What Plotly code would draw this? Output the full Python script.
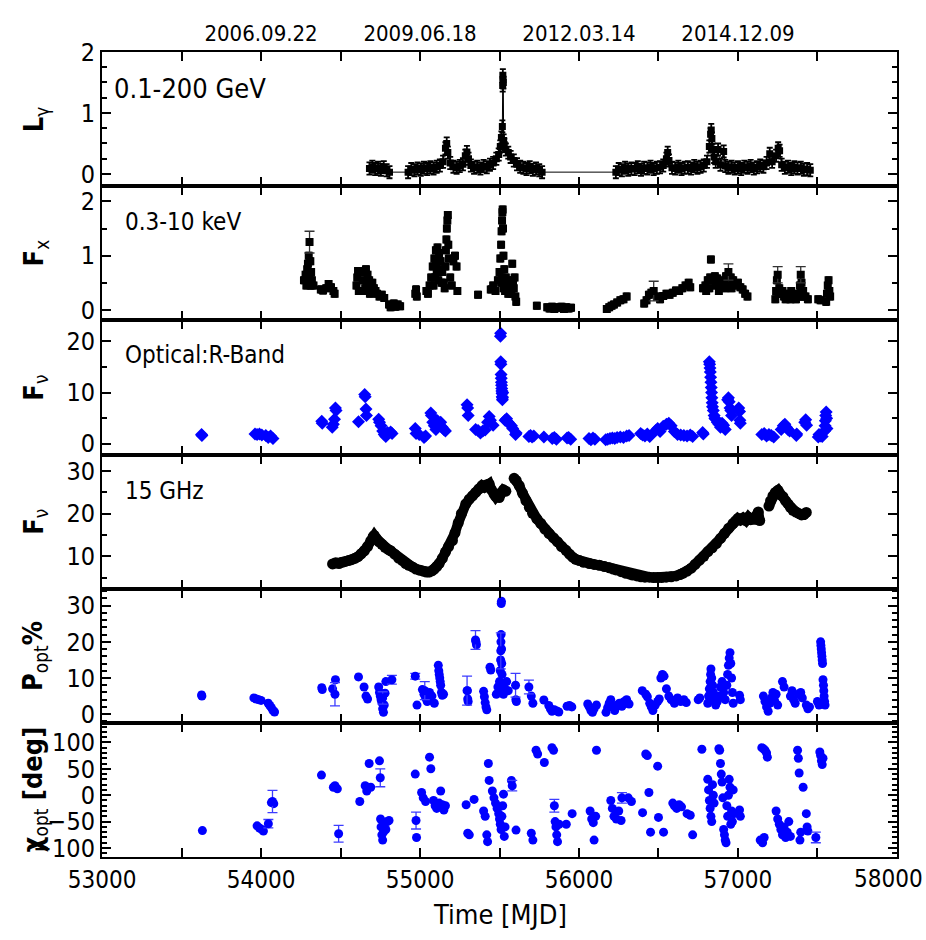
import plotly.graph_objects as go
from plotly.subplots import make_subplots

# ---------------- data ----------------
# Gamma-ray luminosity, 0.1-200 GeV
gam_mjd = [
    54682, 54700, 54718, 54736, 54754, 54772, 54790, 54808,
    54925, 54945, 54965, 54985, 55005, 55025, 55045, 55065, 55085, 55105,
    55125, 55145, 55160, 55168, 55175, 55190, 55210, 55230, 55250, 55270,
    55285, 55295, 55305, 55320, 55340, 55360, 55380, 55400, 55420, 55440,
    55460, 55480, 55495, 55505, 55512, 55518, 55520, 55521, 55522, 55524,
    55526, 55530, 55540, 55555, 55570, 55590, 55610, 55630, 55650, 55670,
    55690, 55710, 55730, 55750, 55768,
    56232, 56250, 56270, 56290, 56310, 56330, 56350, 56370, 56390, 56410,
    56430, 56450, 56470, 56490, 56510, 56530, 56550, 56558, 56566, 56585,
    56605, 56625, 56645, 56665, 56685, 56705, 56725, 56745, 56765, 56785,
    56805, 56820, 56828, 56832, 56836, 56842, 56850, 56860, 56875, 56890,
    56910, 56920, 56940, 56960, 56980, 57000, 57020, 57040, 57060, 57080,
    57100, 57120, 57140, 57160, 57180, 57200, 57215, 57240, 57253, 57262,
    57275, 57295, 57315, 57335, 57355, 57375, 57395, 57415, 57435, 57455,
]
gam_lum = [
    0.09, 0.12, 0.08, 0.10, 0.07, 0.11, 0.06, 0.03,
    0.03, 0.08, 0.06, 0.09, 0.07, 0.10, 0.08, 0.11, 0.09, 0.12,
    0.14, 0.20, 0.42, 0.50, 0.35, 0.18, 0.12, 0.10, 0.13, 0.16,
    0.30, 0.36, 0.25, 0.14, 0.10, 0.12, 0.09, 0.13, 0.11, 0.15,
    0.18, 0.25, 0.32, 0.45, 0.60, 0.78, 1.45, 1.62, 1.55, 1.50,
    0.55, 0.48, 0.40, 0.35, 0.28, 0.22, 0.16, 0.12, 0.10, 0.08,
    0.11, 0.07, 0.09, 0.06, 0.03,
    0.03, 0.08, 0.06, 0.10, 0.07, 0.09, 0.08, 0.11, 0.07, 0.10,
    0.09, 0.12, 0.08, 0.10, 0.11, 0.14, 0.25, 0.35, 0.22, 0.10,
    0.09, 0.12, 0.08, 0.10, 0.11, 0.09, 0.13, 0.10, 0.12, 0.14,
    0.20, 0.45, 0.65, 0.72, 0.58, 0.40, 0.28, 0.20, 0.40, 0.15,
    0.37, 0.13, 0.10, 0.12, 0.09, 0.11, 0.08, 0.12, 0.10, 0.13,
    0.09, 0.11, 0.14, 0.12, 0.18, 0.33, 0.20, 0.30, 0.42, 0.38,
    0.15, 0.10, 0.12, 0.08, 0.11, 0.09, 0.10, 0.07, 0.08, 0.06,
]
gam_err = 0.1

# X-ray flux, 0.3-10 keV
xr_mjd = [
    54270, 54280, 54290, 54295, 54300, 54310, 54315, 54320, 54330,
    54285, 54295, 54305, 54312,
    54376, 54390, 54410, 54425, 54440, 54455, 54463,
    54600, 54605, 54610, 54615, 54640, 54650, 54660, 54670, 54680, 54690,
    54700, 54710, 54720, 54730, 54745, 54760, 54775,
    54645, 54655, 54665, 54675, 54685,
    54805, 54815, 54825, 54835, 54845, 54860, 54875,
    54970, 54975, 54980,
    55040, 55050, 55060, 55070, 55080, 55090, 55100, 55110, 55120, 55130,
    55140, 55150, 55155, 55160, 55163, 55166, 55169, 55172, 55175, 55178,
    55181, 55190, 55200, 55210, 55220, 55230, 55235,
    55085, 55095, 55105, 55115, 55125, 55135, 55100, 55110,
    55365,
    55445, 55460, 55475, 55490, 55500, 55505, 55510, 55513, 55516, 55518,
    55520, 55522, 55525, 55530, 55540, 55550, 55560, 55570, 55580, 55590,
    55600, 55605,
    55510, 55515, 55525, 55535, 55545, 55555, 55575, 55585, 55595,
    55735,
    55800, 55815, 55830, 55845, 55860, 55875, 55890, 55905, 55920, 55935, 55950,
    56175, 56190, 56205, 56220, 56240, 56260, 56280, 56300,
    56410, 56425, 56440, 56455, 56490, 56510, 56530, 56550, 56570, 56590,
    56610, 56630, 56650, 56670, 56690, 56700,
    56780, 56795, 56810, 56825, 56830, 56840, 56855, 56870, 56885, 56900,
    56915, 56925, 56955, 56970, 56985, 57000, 57015, 57030, 57045, 57060,
    56800, 56820, 56860, 56880, 56920, 56945, 56960,
    57235, 57240, 57245, 57260, 57275, 57290, 57305, 57320, 57335, 57350,
    57365, 57380, 57390, 57400, 57410, 57425, 57440,
    57255, 57280, 57300, 57330, 57385, 57395, 57405,
    57505, 57520, 57555, 57560, 57565, 57570, 57575, 57580,
]
xr_flux = [
    0.55, 0.65, 0.75, 0.85, 1.00, 0.90, 0.70, 0.55, 0.45,
    0.45, 0.50, 0.60, 0.45,
    0.38, 0.36, 0.40, 0.48, 0.42, 0.35, 0.30,
    0.45, 0.60, 0.72, 0.35, 0.55, 0.70, 0.75, 0.65, 0.55, 0.45,
    0.50, 0.40, 0.35, 0.30, 0.25, 0.28, 0.22,
    0.35, 0.40, 0.50, 0.35, 0.30,
    0.10, 0.05, 0.08, 0.12, 0.06, 0.10, 0.07,
    0.30, 0.38, 0.25,
    0.35, 0.30, 0.45, 0.60, 0.80, 0.95, 1.10, 1.15, 1.05, 0.90,
    0.70, 0.50, 0.40, 0.80, 1.10, 1.30, 1.50, 1.65, 1.75, 1.20,
    0.95, 0.60, 0.45, 0.90, 1.00, 0.80, 0.35,
    0.45, 0.60, 0.70, 0.55, 0.75, 0.50, 0.85, 0.90,
    0.28,
    0.38, 0.45, 0.35, 0.55, 0.70, 0.95, 1.20, 1.45, 1.65, 1.80,
    1.85, 1.50, 1.00, 0.75, 0.60, 0.50, 0.35, 0.55, 0.85, 0.40,
    0.25, 0.15,
    0.50, 0.60, 0.40, 0.35, 0.45, 0.30, 0.30, 0.50, 0.60,
    0.08,
    0.05, 0.03, 0.06, 0.02, 0.05, 0.04, 0.06, 0.02, 0.05, 0.03, 0.04,
    0.02, 0.05, 0.08, 0.10, 0.14, 0.18, 0.20, 0.25,
    0.12, 0.18, 0.28, 0.32, 0.25, 0.20, 0.26, 0.30, 0.28, 0.32,
    0.36, 0.35, 0.40, 0.45, 0.50, 0.42,
    0.40, 0.45, 0.55, 0.60, 0.93, 0.55, 0.62, 0.58, 0.50, 0.48,
    0.55, 0.62, 0.60, 0.55, 0.45, 0.50, 0.42, 0.38, 0.30, 0.25,
    0.35, 0.40, 0.45, 0.35, 0.40, 0.45, 0.40,
    0.20, 0.35, 0.55, 0.40, 0.30, 0.25, 0.30, 0.28, 0.35, 0.25,
    0.20, 0.30, 0.45, 0.50, 0.35, 0.25, 0.20,
    0.30, 0.35, 0.20, 0.20, 0.25, 0.35, 0.25,
    0.20, 0.18, 0.15, 0.30, 0.45, 0.55, 0.35, 0.25,
]
xr_err = 0.06
# X-ray points with large uncertainties
xr_wide_mjd = [54305, 56470, 56940, 57250, 57395]
xr_wide_flux = [1.25, 0.35, 0.70, 0.65, 0.65]
xr_wide_err = [0.20, 0.18, 0.15, 0.15, 0.15]

# Optical R-band flux density
opt_mjd = [
    53626, 53628,
    53962, 53975, 53990, 54005, 54030, 54045, 54060, 54075,
    54382, 54385,
    54448, 54455, 54462, 54468, 54472,
    54613,
    54652, 54655, 54660, 54663,
    54740, 54745, 54755, 54765, 54775, 54785, 54795, 54815, 54824,
    54970, 54975, 54995, 55025, 55035,
    55068, 55072, 55080, 55090, 55100, 55110, 55120, 55130, 55140, 55150, 55160,
    55296, 55300, 55303,
    55350, 55365, 55380, 55395, 55410, 55425, 55435, 55443, 55460,
    55506, 55507, 55508, 55509, 55510, 55511, 55512, 55513, 55514, 55515,
    55516, 55517, 55518, 55519, 55520,
    55535, 55545, 55555, 55565, 55575, 55583,
    55601, 55605,
    55685, 55695, 55705, 55716,
    55779,
    55832, 55845, 55858,
    55925, 55935, 55948,
    56063, 56075, 56088, 56100,
    56168, 56180, 56195, 56210, 56225, 56240, 56260, 56280, 56300, 56315,
    56388, 56400, 56415, 56430, 56445,
    56483, 56495, 56510, 56530, 56550, 56565, 56580,
    56600, 56620, 56640, 56660, 56680, 56700, 56715,
    56778, 56782,
    56820, 56822, 56824, 56826, 56828, 56830, 56832, 56834, 56836, 56838,
    56840, 56845, 56850, 56855,
    56860, 56870, 56880, 56890, 56900, 56910, 56920,
    56935, 56940, 56945, 56950, 56955, 56960,
    57005, 57010, 57012, 57015,
    57150, 57165, 57180, 57195, 57210, 57225,
    57272, 57285, 57295, 57305, 57315, 57325,
    57367, 57370,
    57420, 57426, 57432,
    57505, 57510, 57520, 57530, 57545, 57548, 57550, 57552, 57555, 57558, 57560,
]
opt_flux = [
    1.8, 1.6,
    1.9, 1.8, 1.9, 1.7, 1.6, 1.2, 1.5, 1.0,
    4.4, 4.0,
    3.2, 3.8, 4.8, 7.0, 6.5,
    4.3,
    9.6, 9.2, 6.8, 5.5,
    4.8, 4.2, 3.5, 2.5, 1.8, 1.4, 2.2, 2.3, 2.0,
    3.0, 2.0, 1.8, 1.2, 1.5,
    6.0, 5.5, 4.2, 3.5, 2.8, 4.5, 3.6, 4.2, 3.2, 2.8, 2.5,
    7.6, 7.0, 5.5,
    2.8, 2.6, 2.1, 2.5, 2.7, 4.2, 5.3, 4.6, 3.6,
    21.0, 21.6, 16.0, 15.5, 13.5, 12.8, 12.0, 11.4, 10.8, 10.3,
    9.8, 9.2, 8.6, 9.0, 10.0,
    4.6, 4.9, 4.2, 3.8, 3.5, 3.0,
    1.8, 2.1,
    1.4, 1.6, 1.3, 1.5,
    1.3,
    1.0, 1.2, 0.9,
    1.1, 1.2, 0.9,
    1.0, 0.8, 1.1, 0.9,
    0.8, 0.9, 1.0, 1.1, 1.0, 1.2, 1.3, 1.2, 1.5, 1.6,
    2.0, 1.7, 1.5, 1.9, 1.4,
    2.6, 3.0, 2.4, 3.4, 3.8, 4.0, 3.5,
    2.4, 1.8, 1.7, 1.6, 1.5, 1.7, 1.4,
    2.2, 1.9,
    16.0, 15.5, 14.8, 14.0, 13.0, 12.0, 11.0, 10.0, 9.0, 8.0,
    7.2, 6.5, 5.5, 5.0,
    4.8, 4.2, 3.8, 3.2, 4.0, 3.6, 2.8,
    8.6, 9.0, 8.2, 7.0, 6.5, 5.5,
    7.0, 6.3, 4.6, 4.0,
    1.8, 2.0, 1.5, 1.8, 1.6, 1.3,
    2.8, 3.5, 3.8, 3.2, 2.8, 2.5,
    1.6, 1.9,
    4.2, 4.7, 3.6,
    1.3, 1.8, 1.5, 1.4, 2.5, 3.5, 4.5, 5.5, 6.2, 5.0, 3.0,
]
opt_err = 0.3

# Radio flux density at 15 GHz
rad_mjd = [
    54450, 54470, 54490, 54510, 54530, 54550, 54570, 54590, 54610, 54630,
    54650, 54670, 54690, 54705, 54712, 54725, 54742, 54760, 54780, 54800,
    54815, 54840, 54865, 54889, 54910, 54930, 54952, 54975, 55000, 55020,
    55040, 55057, 55075, 55090, 55105, 55120, 55140, 55160, 55180, 55204,
    55220, 55240, 55260, 55288, 55310, 55330, 55350, 55370, 55390, 55405,
    55420, 55435, 55450, 55465, 55477, 55490, 55498, 55510, 55525, 55540,
    55592, 55605, 55624, 55645, 55666, 55688, 55708, 55735, 55760, 55785,
    55812, 55840, 55865, 55890, 55918, 55940, 55960, 55980, 56002, 56030,
    56065, 56095, 56128, 56160, 56191, 56215, 56233, 56265, 56296, 56320,
    56338, 56365, 56390, 56415, 56443, 56470, 56495, 56520, 56548, 56580,
    56611, 56635, 56653, 56680, 56706, 56730, 56759, 56785, 56811, 56838,
    56864, 56890, 56916, 56942, 56969, 56985, 57000, 57015, 57032, 57050,
    57065, 57080, 57095, 57110, 57120, 57128, 57137,
    57195, 57205, 57220, 57235, 57252, 57265, 57283, 57300, 57315, 57330,
    57346, 57365, 57385, 57400, 57415, 57430,
]
rad_flux = [
    8.2, 8.5, 8.3, 8.6, 8.8, 9.0, 9.2, 9.5, 9.9, 10.6,
    11.3, 12.3, 13.6, 14.6, 14.9, 14.2, 13.4, 12.8, 12.1, 11.6,
    11.3, 10.5, 9.6, 9.0, 8.3, 7.9, 7.5, 7.0, 6.7, 6.5,
    6.3, 6.3, 6.6, 7.0, 7.6, 8.3, 9.5, 11.0, 12.3, 13.7,
    15.5, 17.8, 20.0, 22.3, 23.4, 24.2, 25.0, 25.8, 26.6, 26.2,
    26.8, 27.0, 25.6, 24.6, 24.0, 24.6, 23.8, 24.8, 25.6, 25.3,
    28.3, 27.8, 26.6, 24.8, 23.1, 21.5, 20.1, 18.8, 17.7, 16.4,
    15.3, 14.3, 13.4, 12.3, 11.4, 10.5, 9.8, 9.3, 9.0, 8.6,
    8.3, 8.1, 7.9, 7.6, 7.3, 7.0, 6.8, 6.4, 6.0, 5.8,
    5.6, 5.4, 5.2, 5.1, 5.1, 5.0, 5.0, 5.0, 5.1, 5.2,
    5.4, 5.7, 6.0, 6.5, 7.2, 8.1, 9.1, 10.0, 11.1, 12.0,
    13.0, 14.2, 15.4, 16.6, 17.7, 18.3, 18.9, 18.5, 19.0, 18.4,
    19.2, 18.6, 19.0, 18.7, 19.8, 20.4, 18.4,
    21.8, 23.0, 24.2, 25.0, 25.5, 24.5, 24.0, 23.0, 22.3, 21.5,
    20.8, 20.4, 20.0, 19.7, 19.8, 20.3,
]

# Optical polarization degree (%)
pol_mjd = [
    53626, 53628,
    53955, 53970, 53985, 54000,
    54045, 54055, 54065, 54075, 54085,
    54382, 54385,
    54450, 54468,
    54613,
    54648, 54660, 54670,
    54740, 54745, 54750, 54755, 54760, 54765, 54770, 54775, 54780, 54785,
    54981,
    55015, 55025, 55035, 55045, 55060, 55075, 55090,
    55115, 55118, 55121, 55124, 55127, 55130, 55135, 55140, 55148,
    55298, 55300, 55303,
    55352, 55355,
    55400, 55405, 55410, 55415, 55420,
    55440, 55445,
    55480, 55490, 55500, 55505, 55507, 55509, 55510, 55511, 55512, 55513,
    55514, 55516, 55518, 55520, 55525, 55535, 55545, 55555,
    55603, 55606,
    55700, 55710,
    55779,
    55810, 55820, 55830, 55845, 55860, 55873,
    55925, 55940, 55955,
    56055, 56065, 56075, 56085, 56095, 56110,
    56170, 56180, 56190, 56200, 56210, 56225, 56240, 56255, 56270, 56285,
    56300, 56315,
    56398,
    56420, 56430, 56445, 56455, 56465, 56480, 56495, 56505, 56515, 56525,
    56535,
    56550, 56565, 56580, 56600, 56620, 56640, 56660, 56675,
    56750, 56760,
    56810, 56815, 56820, 56825, 56828, 56830, 56835, 56840, 56845, 56850,
    56860, 56870, 56880, 56890, 56900, 56910, 56920, 56930, 56935, 56940,
    56945, 56950, 56955, 56960, 56965, 56970,
    57010, 57015,
    57160, 57170, 57180, 57190, 57200, 57210, 57220, 57230, 57240, 57250,
    57280, 57290,
    57330, 57340, 57350, 57360, 57380, 57395, 57405,
    57430, 57440, 57450,
    57500, 57510,
    57520, 57522, 57524, 57526, 57528, 57530, 57532, 57535, 57538, 57540,
    57542, 57545, 57548,
]
pol_deg = [
    5.3, 5.0,
    4.5, 4.2, 4.0, 3.8,
    3.0, 2.4, 1.8, 1.0, 0.6,
    7.3, 6.8,
    7.0, 9.5,
    10.3,
    7.5, 5.0, 4.2,
    7.5, 6.0, 5.0, 4.0, 3.2, 1.5, 0.5, 2.5, 5.8, 9.0,
    2.5,
    6.8, 5.5, 4.5, 3.5, 6.0, 5.0, 3.0,
    13.5, 12.0, 11.0, 10.0, 9.0, 8.0, 6.0, 5.2, 5.5,
    6.5, 4.2, 3.5,
    20.0, 19.2,
    6.3, 4.8, 3.2, 2.0, 1.2,
    13.0, 12.2,
    5.5, 7.5, 9.0, 12.0, 15.0, 20.0, 22.0, 30.6, 31.2, 18.0,
    14.0, 11.0, 8.5, 6.5, 5.5, 7.0, 9.0, 6.5,
    4.0, 3.5,
    5.0, 3.0,
    3.9,
    2.4, 1.5, 0.8, 1.2, 0.9, 0.6,
    2.2, 2.4, 2.0,
    2.8, 2.0, 1.0, 0.5, 1.5, 2.5,
    0.5, 1.8, 3.0, 4.0, 2.0, 1.0, 2.5, 3.0, 2.2, 3.5,
    4.0, 2.8,
    6.5,
    5.5, 4.8, 3.0, 2.0, 1.0, 2.5, 3.5, 4.2, 10.0, 11.0,
    10.5,
    7.0, 5.0, 4.0, 3.0, 4.5, 3.5, 4.0, 3.2,
    4.0, 4.5,
    3.0, 5.0, 7.0, 9.0, 11.0, 12.5, 10.0, 8.0, 6.0, 4.0,
    2.5, 3.5, 5.0, 7.5, 9.0, 6.0, 4.0, 8.0, 11.0, 13.5,
    15.5, 17.0, 14.0, 10.0, 6.0, 3.0,
    5.2, 4.0,
    5.0, 3.5, 2.0, 0.8, 3.0, 4.5, 6.0, 3.8, 5.5, 2.5,
    9.0, 7.5,
    5.0, 6.5, 4.0, 3.0, 5.5, 6.0, 4.5,
    2.5, 1.5, 2.0,
    3.5, 2.5,
    20.0, 19.0, 18.0, 17.0, 16.0, 15.0, 14.0, 9.5, 8.0, 6.5,
    5.0, 3.5, 2.5,
]
pol_err = 0.8
pol_wide_mjd = [54465, 54765, 54823, 54970, 55030, 55296, 55349, 55508, 55601, 55685]
pol_wide_deg = [5.5, 4.5, 9.5, 10.5, 6.5, 6.5, 20.5, 17.5, 8.0, 7.5]
pol_wide_err = [3.2, 1.7, 1.2, 0.8, 2.5, 4.0, 2.6, 5.0, 3.3, 1.9]

# Optical polarization angle (deg)
evpa_mjd = [
    53631,
    53975, 53990, 54005, 54015,
    54065, 54080,
    54380,
    54455, 54465, 54480,
    54621,
    54655, 54665, 54680, 54690,
    54745, 54752, 54755, 54760, 54765, 54770, 54775, 54785, 54795,
    54805,
    54970, 54978,
    55010, 55020, 55035, 55060, 55068,
    55085, 55095, 55105, 55120, 55130, 55140, 55150, 55160,
    55290, 55300, 55310, 55340,
    55400, 55410, 55420, 55425, 55430, 55435,
    55455, 55465, 55475, 55485, 55495, 55500, 55505, 55510, 55515, 55520,
    55525, 55530, 55535,
    55575, 55604,
    55700, 55710, 55730, 55740,
    55782,
    55830, 55840, 55850, 55855, 55860, 55865, 55875,
    55920, 55957,
    56070, 56080, 56090, 56095, 56105, 56110,
    56200, 56210, 56220, 56235, 56250, 56265,
    56310, 56330,
    56400, 56420, 56430, 56440, 56450,
    56495, 56500, 56532,
    56590, 56600, 56615, 56630, 56645,
    56680, 56700, 56715,
    56773,
    56810, 56815, 56820, 56825, 56830, 56835, 56840, 56845, 56850,
    56880, 56885, 56890, 56895, 56900, 56905, 56910, 56915, 56920, 56925,
    56930, 56935, 56940, 56945, 56950, 56955, 56960, 56965, 56970, 56975,
    57010, 57015,
    57140, 57150, 57155, 57160, 57165, 57170, 57180, 57185,
    57240, 57250, 57260, 57270, 57280, 57290, 57300, 57310, 57320, 57330,
    57375, 57380, 57385, 57390, 57395, 57410,
    57430, 57435, 57440,
    57515, 57520, 57525, 57530, 57535,
]
evpa_deg = [
    -67,
    -58, -62, -65, -68,
    -14, -16,
    38,
    15, 18, 12,
    -12,
    18, 8, 60, 15,
    65, -45, -60, -75, -85, -70, -55, -65, -50,
    -48,
    40, -80,
    5, -5, -12, 72, 50,
    -10, -20, -25, -15, 8, -18, -28, -20,
    -18, -72, -75, -8,
    -30, -40, -75, -88, 60, 28,
    8, -5, -15, -25, -35, -45, -55, -65, -40, -20,
    2, -78, -60,
    28, -66,
    -72, -85, 85, 78,
    62,
    90, 85, -50, -60, -75, -88, -55,
    -55, -35,
    -30, -45, -52, -85, -40, 85,
    -10, -25, -40, -45, -30, -48,
    -5, -12,
    -33, 78, 75, 5, -70,
    55, -42, -70,
    -15, -20, -25, -18, -22,
    -35, -38, -75,
    87,
    30, 10, -10, -25, -40, -50, 20, 0, -15,
    88, 85, 60, 40, 25, -5, -65, -75, -85, -90,
    -20, -40, 0, 30, 15, -55, -30, -50, 10, -35,
    -28, -40,
    -85, 90, -90, 88, -80, 85, 80, 72,
    -30, -45, -55, -65, -75, -60, -80, -70, -50, -78,
    85, 70, 42, -85, -70, 15,
    -35, -60, -68,
    82, 75, 65, 58, 70,
]
evpa_err = 4
evpa_wide_mjd = [54046, 54072, 54488, 54750, 54975, 55580, 55845, 56270, 57490]
evpa_wide_deg = [-54, -12, -73, 33, -48, 18, -20, -5, -80]
evpa_wide_err = [8, 21, 16, 17, 16, 10, 12, 10, 10]

# axis settings
bottom_ticks = [53000, 54000, 55000, 56000, 57000, 58000]
top_ticks = [54000, 55000, 56000, 57000]
top_labels = ["2006.09.22", "2009.06.18", "2012.03.14", "2014.12.09"]
y_ranges = [[-0.2, 2.0], [-0.19, 2.28], [-2.1, 24.1], [2.4, 33.9], [-2.4, 34.7], [-117, 137]]
y_ticks = [[0, 1, 2], [0, 1, 2], [0, 10, 20], [10, 20, 30], [0, 10, 20, 30],
           [-100, -50, 0, 50, 100]]
y_minor = [0.25, 0.5, 5, 5, 2, 10]
y_titles = ["<b>L</b><sub>γ</sub>", "<b>F</b><sub>x</sub>", "<b>F</b><sub>ν</sub>",
            "<b>F</b><sub>ν</sub>", "<b>P</b><sub>opt</sub><b>%</b>",
            "<b>χ</b><sub>opt</sub><b> [deg]</b>"]
band_labels = ["0.1-200 GeV", "0.3-10 keV", "Optical:R-Band", "15 GHz"]

FONT = "Liberation Sans Narrow, DejaVu Sans Condensed, Arial Narrow, Liberation Sans, Arial, sans-serif"
BLUE = "#0000ff"
BLUE_ERR = "#3c3cff"
TICK_SIZE = 24

fig = make_subplots(rows=6, cols=1, shared_xaxes=True, vertical_spacing=0)

# gamma rays: connected light curve
fig.add_trace(go.Scatter(
    x=gam_mjd, y=gam_lum, mode="lines+markers",
    line=dict(color="black", width=1),
    marker=dict(symbol="square", size=7, color="black"),
    error_y=dict(type="constant", value=gam_err, color="black", thickness=1.8, width=3),
    error_x=dict(type="constant", value=9, color="black", thickness=1.8, width=0),
), row=1, col=1)

# X-rays
fig.add_trace(go.Scatter(
    x=xr_mjd, y=xr_flux, mode="markers",
    marker=dict(symbol="square", size=8, color="black"),
    error_y=dict(type="constant", value=xr_err, color="black", thickness=1.5, width=3),
    error_x=dict(type="constant", value=12, color="black", thickness=1.5, width=0),
), row=2, col=1)
fig.add_trace(go.Scatter(
    x=xr_wide_mjd, y=xr_wide_flux, mode="markers",
    marker=dict(symbol="square", size=8, color="black"),
    error_y=dict(type="data", array=xr_wide_err, color="#333333", thickness=1.3, width=5),
), row=2, col=1)

# optical R band
fig.add_trace(go.Scatter(
    x=opt_mjd, y=opt_flux, mode="markers",
    marker=dict(symbol="diamond", size=10, color=BLUE),
    error_y=dict(type="constant", value=opt_err, color=BLUE_ERR, thickness=1.2, width=3),
), row=3, col=1)

# radio, broken at observing gaps
segments = [[]]
for i, m in enumerate(rad_mjd):
    if i > 0 and m - rad_mjd[i - 1] > 40:
        segments.append([])
    segments[-1].append(i)
for seg in segments:
    fig.add_trace(go.Scatter(
        x=[rad_mjd[i] for i in seg], y=[rad_flux[i] for i in seg],
        mode="lines+markers",
        line=dict(color="black", width=10),
        marker=dict(symbol="circle", size=11, color="black"),
    ), row=4, col=1)

# optical polarization degree
fig.add_trace(go.Scatter(
    x=pol_mjd, y=pol_deg, mode="markers",
    marker=dict(symbol="circle", size=9, color=BLUE),
    error_y=dict(type="constant", value=pol_err, color=BLUE_ERR, thickness=1.2, width=3),
), row=5, col=1)
fig.add_trace(go.Scatter(
    x=pol_wide_mjd, y=pol_wide_deg, mode="markers",
    marker=dict(symbol="circle", size=9, color=BLUE),
    error_y=dict(type="data", array=pol_wide_err, color=BLUE_ERR, thickness=1.3, width=5),
), row=5, col=1)

# optical polarization angle
fig.add_trace(go.Scatter(
    x=evpa_mjd, y=evpa_deg, mode="markers",
    marker=dict(symbol="circle", size=9, color=BLUE),
    error_y=dict(type="constant", value=evpa_err, color=BLUE_ERR, thickness=1.2, width=3),
), row=6, col=1)
fig.add_trace(go.Scatter(
    x=evpa_wide_mjd, y=evpa_wide_deg, mode="markers",
    marker=dict(symbol="circle", size=9, color=BLUE),
    error_y=dict(type="data", array=evpa_wide_err, color=BLUE_ERR, thickness=1.3, width=5),
), row=6, col=1)

x_minor = dict(ticks="inside", ticklen=9, tickwidth=2, tickcolor="black", dtick=500, tick0=53000)
for r in range(1, 7):
    common = dict(
        range=[52999.5, 58000.5], ticks="inside", ticklen=9, tickwidth=2, tickcolor="black",
        minor=x_minor, showline=True, linewidth=2, linecolor="black", mirror="ticks",
        showgrid=False, zeroline=False, automargin=False,
    )
    if r == 1:
        fig.update_xaxes(row=r, col=1, tickmode="array", tickvals=top_ticks,
                         ticktext=top_labels, side="top", showticklabels=True,
                         tickfont=dict(family=FONT, size=22, color="black"), **common)
    elif r == 6:
        # the last label sits at the page edge and is placed separately below
        fig.update_xaxes(row=r, col=1, tickmode="array", tickvals=bottom_ticks,
                         ticktext=[str(v) if v < bottom_ticks[-1] else "" for v in bottom_ticks],
                         showticklabels=True,
                         tickfont=dict(family=FONT, size=TICK_SIZE, color="black"), **common)
    else:
        fig.update_xaxes(row=r, col=1, tickmode="array", tickvals=bottom_ticks,
                         showticklabels=False, **common)
    fig.update_yaxes(
        row=r, col=1, range=y_ranges[r - 1],
        tickmode="array", tickvals=y_ticks[r - 1],
        ticks="inside", ticklen=9, tickwidth=2, tickcolor="black",
        minor=dict(ticks="inside", ticklen=5, tickwidth=1.5, tickcolor="black",
                   dtick=y_minor[r - 1], tick0=0),
        showline=True, linewidth=2, linecolor="black", mirror="ticks",
        showgrid=False, zeroline=False, automargin=False,
        tickfont=dict(family=FONT, size=25, color="black"),
    )
    fig.add_annotation(
        text=y_titles[r - 1], xref="paper", yref=f"y{'' if r == 1 else r} domain",
        x=-0.084, y=0.5, xanchor="center", yanchor="middle", textangle=-90,
        showarrow=False, font=dict(family=FONT, size=27, color="black"),
    )

# right-most bottom tick label, kept inside the page
fig.add_annotation(
    text=str(bottom_ticks[-1]), xref="paper", yref="paper",
    x=1 + 28 / 795, y=-0.0075, xanchor="right", yanchor="top",
    showarrow=False, font=dict(family=FONT, size=TICK_SIZE, color="black"),
)

for r, label in enumerate(band_labels, start=1):
    fig.add_annotation(
        text=label, xref=f"x{'' if r == 1 else r} domain",
        yref=f"y{'' if r == 1 else r} domain",
        x=0.012 if r == 1 else 0.027, y=0.73 if r != 3 else 0.745,
        xanchor="left", yanchor="middle", showarrow=False,
        font=dict(family=FONT, size=(27 if r == 1 else 24), color="black"),
    )

fig.add_annotation(
    text="Time [MJD]", xref="paper", yref="paper", x=0.5, y=-0.072,
    xanchor="center", yanchor="middle", showarrow=False,
    font=dict(family=FONT, size=27, color="black"),
)

fig.update_layout(
    width=926, height=940,
    margin=dict(l=102, r=29, t=52, b=83),
    paper_bgcolor="white", plot_bgcolor="white",
    showlegend=False,
    font=dict(family=FONT, color="black"),
)

fig.write_html("out.html")
